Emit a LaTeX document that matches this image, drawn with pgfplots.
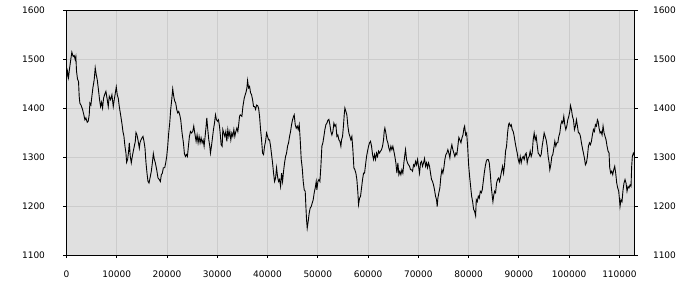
\documentclass[border=0pt]{standalone}
\usepackage{pgfplots}
\pgfplotsset{compat=1.18}
\usepackage{fontspec}
\setmainfont{DejaVu Sans}
\definecolor{bgcol}{HTML}{E0E0E0}
\definecolor{gridcol}{HTML}{CCCCCC}
\begin{document}
\begin{tikzpicture}
\path[use as bounding box] (-66.5pt,-45pt) rectangle (633.5pt,255pt);
\pgfplotsset{
  common/.style={
    scale only axis, width=568pt, height=245pt,
    at={(0,0)}, anchor=south west,
    xmin=0, xmax=113000, ymin=1100, ymax=1600,
    ytick={1100,1200,...,1600},
    tick align=outside, major tick length=3pt,
    tick style={black, line width=0.8pt},
    ticklabel style={font=\fontsize{9}{10}\selectfont},
    /pgf/number format/assume math mode=true,
    /pgf/number format/fixed,
    /pgf/number format/precision=0,
    /pgf/number format/1000 sep={},
    scaled x ticks=false, scaled y ticks=false,
  }
}
\begin{axis}[common,
  axis line style={black, line width=1pt},
  axis background/.style={fill=bgcol},
  xtick={0,10000,...,110000},
  xtick pos=bottom, ytick pos=left,
  grid=major, grid style={gridcol, line width=1pt},
  yticklabel style={xshift=-15pt},
  xticklabel style={yshift=-9pt},
]
\addplot[black, line width=0.9pt, mark=none] coordinates {
(0,1458)(199,1475)(399,1462)(598,1480)(864,1500)(1063,1514)(1329,1505)(1528,1507)(1728,1499)(1861,1505)
(1994,1475)(2193,1459)(2392,1454)(2525,1424)(2658,1410)(2924,1405)(3190,1397)(3455,1386)(3655,1376)(3854,1380)
(4120,1371)(4319,1373)(4519,1386)(4652,1410)(4851,1406)(5050,1424)(5250,1441)(5515,1458)(5715,1482)(5914,1468)
(6113,1458)(6313,1441)(6579,1417)(6778,1403)(6977,1412)(7177,1400)(7376,1420)(7575,1427)(7841,1434)(8107,1417)
(8306,1403)(8506,1424)(8771,1417)(9037,1427)(9303,1403)(9502,1417)(9768,1434)(9901,1443)(10100,1427)(10300,1420)
(10499,1403)(10765,1386)(11031,1368)(11230,1352)(11429,1342)(11629,1322)(11828,1308)(11961,1289)(12160,1295)(12360,1312)
(12493,1329)(12692,1301)(12891,1288)(13091,1301)(13290,1312)(13489,1322)(13689,1332)(13822,1350)(14021,1345)(14220,1335)
(14486,1318)(14619,1329)(14818,1335)(15018,1339)(15217,1342)(15416,1332)(15616,1318)(15815,1288)(16014,1267)(16214,1250)
(16413,1247)(16613,1257)(16878,1271)(17078,1288)(17277,1307)(17476,1295)(17676,1288)(17942,1274)(18207,1257)(18473,1254)
(18672,1250)(18872,1264)(19071,1267)(19271,1278)(19536,1278)(19736,1288)(19935,1301)(20134,1322)(20334,1349)(20533,1369)
(20732,1397)(20932,1417)(21131,1439)(21330,1424)(21530,1414)(21729,1410)(21929,1397)(22128,1390)(22327,1393)(22527,1386)
(22726,1376)(22992,1349)(23258,1329)(23457,1307)(23656,1301)(23856,1305)(24055,1301)(24254,1322)(24454,1342)(24653,1352)
(24852,1349)(25118,1352)(25317,1363)(25517,1349)(25783,1332)(25982,1345)(26181,1329)(26381,1342)(26580,1329)(26779,1339)
(26979,1329)(27178,1335)(27377,1322)(27577,1342)(27776,1363)(27909,1380)(28108,1356)(28308,1335)(28507,1322)(28640,1308)
(28839,1322)(29039,1339)(29238,1356)(29437,1369)(29637,1386)(29836,1376)(30035,1373)(30235,1376)(30434,1363)(30633,1342)
(30766,1325)(30966,1322)(31099,1356)(31298,1349)(31497,1342)(31697,1352)(31896,1332)(32095,1356)(32295,1342)(32494,1352)
(32693,1335)(32893,1349)(33092,1342)(33292,1356)(33491,1342)(33690,1352)(33890,1359)(34089,1352)(34288,1369)(34421,1383)
(34563,1386)(34895,1383)(35094,1403)(35359,1420)(35558,1427)(35757,1434)(35889,1441)(36022,1456)(36221,1441)(36420,1444)
(36619,1431)(36818,1427)(37017,1417)(37215,1403)(37414,1403)(37613,1397)(37812,1406)(38011,1405)(38210,1400)(38409,1383)
(38608,1356)(38807,1335)(39006,1308)(39204,1305)(39403,1322)(39602,1332)(39801,1349)(40000,1342)(40199,1335)(40398,1335)
(40597,1322)(40796,1305)(40995,1288)(41193,1267)(41392,1250)(41591,1257)(41790,1278)(41989,1260)(42188,1250)(42387,1254)
(42586,1240)(42785,1267)(42984,1250)(43182,1271)(43381,1288)(43580,1301)(43779,1308)(43978,1322)(44177,1329)(44376,1342)
(44575,1352)(44774,1366)(44973,1376)(45171,1383)(45304,1386)(45503,1366)(45702,1359)(45901,1363)(46100,1356)(46299,1366)
(46497,1335)(46696,1295)(46895,1278)(47094,1250)(47293,1233)(47492,1230)(47625,1199)(47757,1172)(47890,1155)(48089,1169)
(48288,1186)(48486,1196)(48685,1199)(48884,1206)(49083,1213)(49282,1227)(49481,1237)(49680,1250)(49812,1233)(50011,1250)
(50210,1254)(50409,1250)(50608,1281)(50807,1322)(51006,1329)(51205,1342)(51404,1356)(51603,1366)(51801,1369)(52000,1375)
(52199,1377)(52398,1366)(52597,1352)(52796,1345)(52995,1352)(53194,1369)(53393,1363)(53592,1366)(53790,1342)(53989,1345)
(54188,1335)(54387,1332)(54586,1322)(54719,1335)(54918,1342)(55116,1366)(55249,1386)(55382,1400)(55581,1393)(55779,1386)
(55978,1363)(56177,1349)(56376,1342)(56575,1335)(56774,1342)(56973,1315)(57172,1278)(57371,1274)(57570,1267)(57768,1254)
(57967,1227)(58100,1203)(58299,1216)(58498,1220)(58697,1237)(58896,1254)(59094,1267)(59293,1267)(59492,1284)(59691,1301)
(59890,1312)(60089,1322)(60288,1329)(60487,1332)(60686,1322)(60885,1305)(61083,1295)(61282,1305)(61481,1295)(61680,1308)
(61879,1301)(62078,1312)(62277,1308)(62476,1312)(62675,1315)(62874,1322)(63072,1335)(63205,1352)(63338,1359)(63537,1349)
(63735,1335)(63934,1329)(64133,1318)(64332,1312)(64531,1322)(64730,1315)(64929,1322)(65128,1312)(65327,1301)(65526,1288)
(65724,1267)(65923,1288)(66122,1264)(66321,1271)(66520,1264)(66719,1274)(66918,1267)(67117,1288)(67316,1305)(67448,1315)
(67647,1295)(67846,1288)(68045,1284)(68244,1281)(68443,1274)(68642,1274)(68841,1271)(69040,1284)(69238,1281)(69437,1291)
(69636,1284)(69835,1295)(70034,1281)(70233,1267)(70432,1288)(70631,1291)(70830,1281)(71029,1288)(71228,1297)(71426,1281)
(71625,1288)(71824,1278)(72023,1288)(72222,1281)(72421,1267)(72620,1254)(72819,1250)(73017,1243)(73216,1233)(73415,1220)
(73614,1213)(73747,1199)(73880,1216)(74079,1227)(74278,1237)(74476,1260)(74675,1274)(74874,1267)(75073,1278)(75272,1295)
(75471,1305)(75669,1308)(75868,1315)(76067,1308)(76266,1298)(76465,1315)(76664,1325)(76863,1315)(77062,1308)(77261,1301)
(77460,1308)(77659,1305)(77857,1322)(78056,1340)(78255,1335)(78477,1329)(78676,1339)(78875,1345)(79073,1359)(79206,1363)
(79404,1345)(79603,1349)(79801,1322)(80000,1284)(80199,1260)(80397,1240)(80596,1220)(80794,1209)(80993,1193)(81192,1189)
(81390,1180)(81523,1213)(81721,1209)(81920,1220)(82118,1216)(82317,1230)(82516,1227)(82714,1233)(82913,1250)(83111,1267)
(83310,1281)(83509,1291)(83707,1295)(83906,1295)(84104,1288)(84303,1267)(84502,1240)(84700,1220)(84833,1209)(84965,1220)
(85164,1230)(85362,1227)(85561,1247)(85759,1254)(85958,1257)(86157,1250)(86355,1260)(86554,1271)(86752,1281)(86951,1267)
(87150,1284)(87348,1312)(87547,1322)(87745,1349)(87944,1366)(88076,1369)(88275,1363)(88474,1366)(88672,1356)(88871,1352)
(89069,1342)(89268,1329)(89467,1318)(89665,1308)(89864,1295)(90062,1288)(90261,1301)(90460,1288)(90658,1298)(90857,1301)
(91055,1295)(91254,1305)(91453,1308)(91651,1288)(91850,1298)(92048,1301)(92247,1312)(92446,1301)(92644,1308)(92843,1335)
(93041,1349)(93240,1335)(93439,1342)(93637,1325)(93836,1308)(94034,1305)(94233,1301)(94432,1305)(94630,1322)(94829,1335)
(95027,1349)(95226,1342)(95425,1335)(95623,1322)(95822,1301)(96020,1288)(96153,1274)(96351,1284)(96550,1301)(96749,1305)
(96947,1318)(97146,1332)(97344,1322)(97543,1329)(97742,1329)(97940,1342)(98139,1349)(98337,1366)(98536,1373)(98735,1369)
(98933,1383)(99132,1366)(99330,1356)(99529,1363)(99728,1376)(99926,1383)(100125,1393)(100257,1405)(100456,1397)(100654,1383)
(100853,1376)(101052,1356)(101250,1363)(101449,1376)(101647,1363)(101846,1349)(102045,1349)(102243,1342)(102442,1329)(102640,1318)
(102839,1308)(103038,1298)(103236,1284)(103435,1288)(103633,1301)(103832,1322)(104031,1329)(104229,1325)(104428,1332)(104626,1345)
(104825,1356)(105024,1352)(105222,1366)(105421,1363)(105619,1376)(105752,1373)(105950,1359)(106149,1349)(106348,1352)(106546,1345)
(106745,1363)(106943,1349)(107142,1342)(107341,1335)(107539,1322)(107738,1312)(107936,1308)(108069,1278)(108267,1267)(108466,1271)
(108665,1264)(108863,1274)(109062,1281)(109260,1267)(109459,1247)(109658,1237)(109856,1230)(109989,1216)(110121,1199)(110320,1213)
(110518,1209)(110717,1233)(110915,1247)(111114,1254)(111313,1247)(111511,1230)(111710,1240)(111908,1237)(112107,1243)(112306,1240)
(112438,1281)(112570,1301)(112769,1308)(112902,1305)(112968,1308)
};
\end{axis}
\begin{axis}[common,
  axis x line=none,
  axis y line*=right,
  axis line style={black, line width=1pt},
  ytick pos=right,
  yticklabel style={xshift=12pt},
]
\addplot[draw=none] coordinates {(0,1100)};
\end{axis}
\end{tikzpicture}
\end{document}
